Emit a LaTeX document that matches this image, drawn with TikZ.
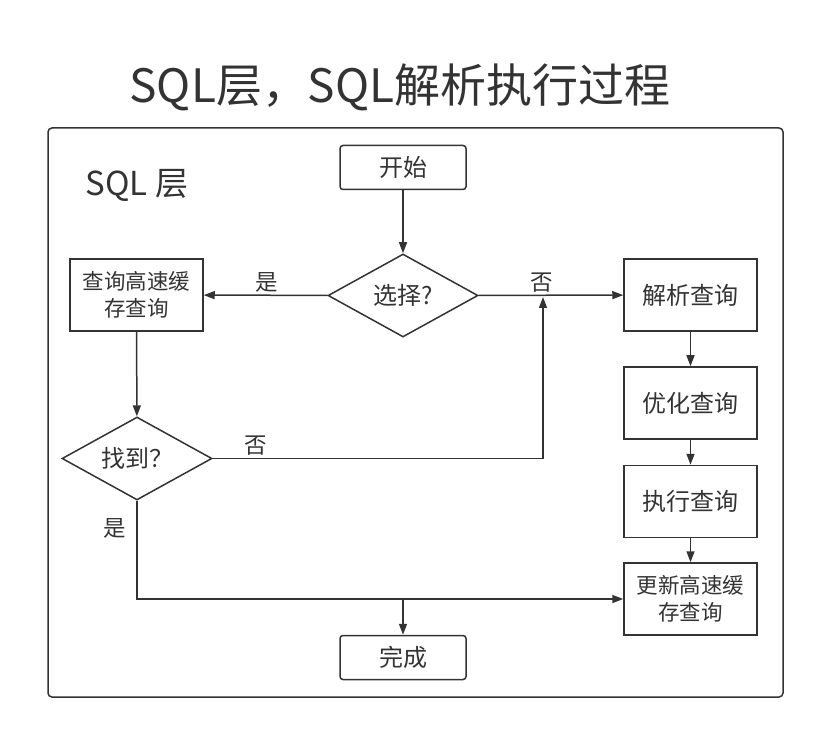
\documentclass[tikz,border=0pt]{standalone}
\usepackage{fontspec}
\setmainfont{Noto Sans CJK SC}
\usetikzlibrary{arrows.meta,shapes.geometric}
\definecolor{ink}{HTML}{333333}

\begin{document}
\begin{tikzpicture}[x=1pt,y=-1pt,
    every node/.style={text=ink},
    box/.style={draw=ink,line width=1.5pt,minimum width=133pt,minimum height=72pt,
      inner sep=0pt,align=center,font=\fontsize{24}{27}\selectfont},
    twoline/.style={box,font=\fontsize{21.5}{27}\selectfont},
    endbox/.style={box,rounded corners=3pt,minimum width=126pt,minimum height=44pt},
    choice/.style={draw=ink,line width=1.5pt,diamond,aspect=1.8,minimum width=150pt,
      minimum height=83pt,inner sep=0pt,font=\fontsize{24}{27}\selectfont},
    lbl/.style={font=\fontsize{22.5}{26}\selectfont,inner sep=2pt},
    arr/.style={draw=ink,line width=1.5pt,-{Triangle[length=11pt,width=8pt]}}]
    \useasboundingbox (0,0) rectangle (815,730);

    % title and frame
    \node (title) at (400,87) {\fontsize{46}{50}\selectfont SQL层，SQL解析执行过程};
    \draw[ink,line width=1.5pt,rounded corners=4pt] (48,128) rectangle (783,697);
    \node (layer) at (137,185) {\fontsize{33}{36}\selectfont SQL 层};

    \node[endbox] (start) at (403,167.5) {开始};
    \node[choice] (choose) at (403,295.5) {选择?};
    \node[twoline] (cache) at (136.5,295) {查询高速缓\\存查询};
    \node[choice] (found) at (137,458.5) {找到？};
    \node[box] (parse) at (690.5,295) {解析查询};
    \node[box] (optimize) at (690.5,403) {优化查询};
    \node[box] (execute) at (690.5,501.5) {执行查询};
    \node[twoline] (update) at (690.5,599) {更新高速缓\\存查询};
    \node[endbox] (finish) at (403,657.5) {完成};

    \coordinate (nofound) at (543,458.5);
    \coordinate (nohit) at (543,297);
    \coordinate (merge) at (403,599);

    \draw[arr] (start) -- (choose);
    \draw[arr] (choose) -- node[lbl,above,pos=0.49] {是} (cache);
    \draw[arr] (choose) -- node[lbl,above,pos=0.44] {否} (parse);
    \draw[arr] (cache) -- (found);
    \draw[arr] (found) -- node[lbl,above,pos=0.13] {否} (nofound) -- (nohit);
    \draw[arr] (found) |- node[lbl,left,pos=0.14,xshift=-8pt] {是} (update);
    \draw[arr] (merge) -- (finish);
    \draw[arr] (parse) -- (optimize);
    \draw[arr] (optimize) -- (execute);
    \draw[arr] (execute) -- (update);
\end{tikzpicture}
\end{document}
